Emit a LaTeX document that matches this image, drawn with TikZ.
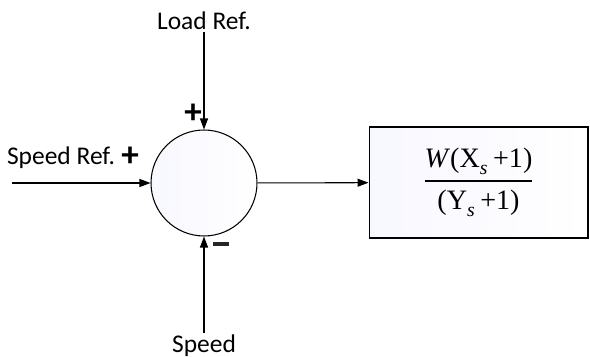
\documentclass[tikz,border=0pt]{standalone}
\usepackage{fontspec}
\setmainfont{Liberation Serif}
\newfontfamily\labelfont{Carlito}
\usepackage{amsmath}
\usetikzlibrary{arrows.meta,positioning}

\begin{document}
\begin{tikzpicture}[x=0.02cm, y=-0.02cm,
    sig/.style={font=\labelfont\fontsize{14.5}{16}\selectfont, inner sep=1pt},
    sgn/.style={font=\labelfont\bfseries\fontsize{20}{20}\selectfont, inner sep=0pt},
    sumnode/.style={draw, circle, minimum size=2.12cm, inner sep=0pt, line width=0.6pt, left color=blue!3, right color=white},
    blk/.style={draw, minimum width=4.38cm, minimum height=2.22cm, line width=0.6pt, left color=blue!3, right color=white},
    arr/.style={-{Triangle[length=2.2mm, width=1.6mm]}, line width=0.6pt}
]
\useasboundingbox (0,0) rectangle (590,357);
\node[sumnode] (sum) at (204,183) {};
\node[blk] (plant) at (478.5,182.5) {\fontsize{16}{19}\selectfont
  $\dfrac{\text{\textit{W}(X}_{\text{\textit{s}}}\text{\,+1)}}{\text{(Y}_{\text{\textit{s}}}\text{\,+1)}}$};
\node[sig] (load) at (204,21) {Load Ref.};
\node[sig] (speed) at (204,346) {Speed};
\node[sig] (sref) at (61,158) {Speed Ref.};
\coordinate (in) at (12,183);
\node[sgn] (p1) at (130,157) {+};
\node[sgn] (p2) at (193,114) {+};
\node[sgn, text=black!85] (m1) at (221,244) {\rule{9pt}{2.8pt}};
\draw[arr] (load) -- (sum);
\draw[arr] (speed) -- (sum);
\draw[arr] (in) -- (sum);
\draw[arr] (sum) -- (plant);
\end{tikzpicture}
\end{document}
